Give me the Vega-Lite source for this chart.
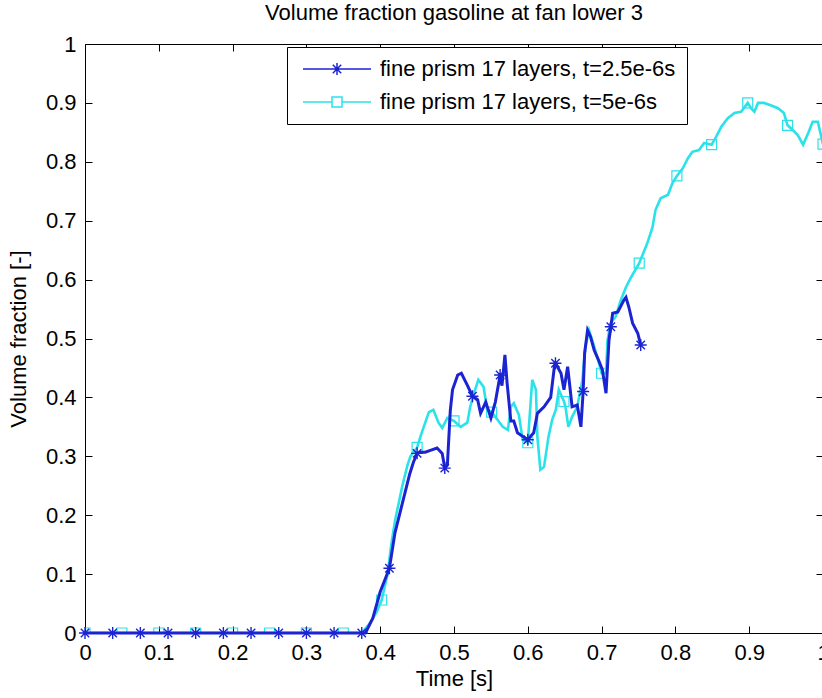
{
  "$schema": "https://vega.github.io/schema/vega-lite/v6.json",
  "width": 738,
  "height": 589,
  "autosize": {"type": "none"},
  "padding": {"left": 85, "top": 44, "right": 0, "bottom": 65},
  "background": "white",
  "title": {"text": "Volume fraction gasoline at fan lower 3", "fontSize": 22, "fontWeight": "normal", "font": "Liberation Sans", "color": "black", "anchor": "middle", "offset": 8},
  "datasets": {
    "blue": [
      {"t": 0, "v": 0}, {"t": 0.38, "v": 0}, {"t": 0.39, "v": 0.025}, {"t": 0.4, "v": 0.07}, {"t": 0.4125, "v": 0.11},
      {"t": 0.42, "v": 0.17}, {"t": 0.43, "v": 0.22}, {"t": 0.44, "v": 0.27}, {"t": 0.445, "v": 0.29}, {"t": 0.45, "v": 0.305},
      {"t": 0.455, "v": 0.307}, {"t": 0.461, "v": 0.307}, {"t": 0.468, "v": 0.31}, {"t": 0.477, "v": 0.314}, {"t": 0.484, "v": 0.305},
      {"t": 0.4875, "v": 0.28}, {"t": 0.491, "v": 0.285}, {"t": 0.495, "v": 0.378}, {"t": 0.498, "v": 0.413}, {"t": 0.505, "v": 0.438},
      {"t": 0.51, "v": 0.441}, {"t": 0.518, "v": 0.421}, {"t": 0.525, "v": 0.402}, {"t": 0.532, "v": 0.396}, {"t": 0.536, "v": 0.373},
      {"t": 0.543, "v": 0.392}, {"t": 0.55, "v": 0.365}, {"t": 0.556, "v": 0.392}, {"t": 0.5625, "v": 0.438}, {"t": 0.565, "v": 0.42},
      {"t": 0.569, "v": 0.472}, {"t": 0.572, "v": 0.424}, {"t": 0.577, "v": 0.36}, {"t": 0.581, "v": 0.36}, {"t": 0.586, "v": 0.34},
      {"t": 0.594, "v": 0.333}, {"t": 0.6, "v": 0.328}, {"t": 0.608, "v": 0.34}, {"t": 0.613, "v": 0.373}, {"t": 0.622, "v": 0.384},
      {"t": 0.631, "v": 0.4}, {"t": 0.636, "v": 0.452}, {"t": 0.6375, "v": 0.458}, {"t": 0.645, "v": 0.441}, {"t": 0.649, "v": 0.413},
      {"t": 0.654, "v": 0.452}, {"t": 0.658, "v": 0.407}, {"t": 0.66, "v": 0.384}, {"t": 0.667, "v": 0.387}, {"t": 0.672, "v": 0.35},
      {"t": 0.675, "v": 0.41}, {"t": 0.677, "v": 0.475}, {"t": 0.681, "v": 0.514}, {"t": 0.685, "v": 0.503}, {"t": 0.69, "v": 0.48},
      {"t": 0.696, "v": 0.463}, {"t": 0.701, "v": 0.447}, {"t": 0.706, "v": 0.407}, {"t": 0.708, "v": 0.452}, {"t": 0.71, "v": 0.497},
      {"t": 0.7125, "v": 0.52}, {"t": 0.715, "v": 0.543}, {"t": 0.722, "v": 0.545}, {"t": 0.73, "v": 0.565}, {"t": 0.733, "v": 0.57},
      {"t": 0.737, "v": 0.553}, {"t": 0.742, "v": 0.526}, {"t": 0.749, "v": 0.509}, {"t": 0.753, "v": 0.489}
    ],
    "blueMarks": [
      {"t": 0, "v": 0}, {"t": 0.0375, "v": 0}, {"t": 0.075, "v": 0}, {"t": 0.1125, "v": 0}, {"t": 0.15, "v": 0},
      {"t": 0.1875, "v": 0}, {"t": 0.225, "v": 0}, {"t": 0.2625, "v": 0}, {"t": 0.3, "v": 0}, {"t": 0.3375, "v": 0},
      {"t": 0.375, "v": 0}, {"t": 0.4125, "v": 0.11}, {"t": 0.45, "v": 0.305}, {"t": 0.4875, "v": 0.28}, {"t": 0.525, "v": 0.402},
      {"t": 0.5625, "v": 0.438}, {"t": 0.6, "v": 0.328}, {"t": 0.6375, "v": 0.458}, {"t": 0.675, "v": 0.41}, {"t": 0.7125, "v": 0.52},
      {"t": 0.753, "v": 0.489}
    ],
    "cyan": [
      {"t": 0, "v": 0}, {"t": 0.375, "v": 0}, {"t": 0.385, "v": 0.015}, {"t": 0.395, "v": 0.035}, {"t": 0.402, "v": 0.056},
      {"t": 0.41, "v": 0.1}, {"t": 0.415, "v": 0.15}, {"t": 0.42, "v": 0.19}, {"t": 0.43, "v": 0.25}, {"t": 0.437, "v": 0.285},
      {"t": 0.441, "v": 0.3}, {"t": 0.45, "v": 0.315}, {"t": 0.455, "v": 0.335}, {"t": 0.459, "v": 0.35}, {"t": 0.466, "v": 0.375},
      {"t": 0.472, "v": 0.379}, {"t": 0.479, "v": 0.357}, {"t": 0.484, "v": 0.348}, {"t": 0.491, "v": 0.365}, {"t": 0.5, "v": 0.36},
      {"t": 0.509, "v": 0.35}, {"t": 0.518, "v": 0.357}, {"t": 0.522, "v": 0.384}, {"t": 0.527, "v": 0.407}, {"t": 0.533, "v": 0.43},
      {"t": 0.54, "v": 0.418}, {"t": 0.545, "v": 0.379}, {"t": 0.551, "v": 0.375}, {"t": 0.559, "v": 0.362}, {"t": 0.566, "v": 0.35},
      {"t": 0.573, "v": 0.345}, {"t": 0.577, "v": 0.384}, {"t": 0.581, "v": 0.39}, {"t": 0.588, "v": 0.37}, {"t": 0.593, "v": 0.328},
      {"t": 0.6, "v": 0.323}, {"t": 0.606, "v": 0.43}, {"t": 0.611, "v": 0.413}, {"t": 0.613, "v": 0.333}, {"t": 0.617, "v": 0.277},
      {"t": 0.622, "v": 0.282}, {"t": 0.628, "v": 0.333}, {"t": 0.633, "v": 0.362}, {"t": 0.638, "v": 0.379}, {"t": 0.642, "v": 0.413},
      {"t": 0.649, "v": 0.393}, {"t": 0.651, "v": 0.384}, {"t": 0.655, "v": 0.35}, {"t": 0.66, "v": 0.367}, {"t": 0.667, "v": 0.384},
      {"t": 0.674, "v": 0.43}, {"t": 0.678, "v": 0.486}, {"t": 0.683, "v": 0.514}, {"t": 0.69, "v": 0.486}, {"t": 0.694, "v": 0.469},
      {"t": 0.7, "v": 0.441}, {"t": 0.706, "v": 0.441}, {"t": 0.708, "v": 0.497}, {"t": 0.712, "v": 0.526}, {"t": 0.719, "v": 0.537},
      {"t": 0.726, "v": 0.565}, {"t": 0.733, "v": 0.587}, {"t": 0.74, "v": 0.604}, {"t": 0.751, "v": 0.628}, {"t": 0.762, "v": 0.662},
      {"t": 0.769, "v": 0.689}, {"t": 0.773, "v": 0.718}, {"t": 0.78, "v": 0.738}, {"t": 0.79, "v": 0.744}, {"t": 0.796, "v": 0.764},
      {"t": 0.802, "v": 0.776}, {"t": 0.81, "v": 0.789}, {"t": 0.817, "v": 0.806}, {"t": 0.823, "v": 0.817}, {"t": 0.832, "v": 0.82},
      {"t": 0.839, "v": 0.832}, {"t": 0.849, "v": 0.829}, {"t": 0.855, "v": 0.842}, {"t": 0.862, "v": 0.859}, {"t": 0.871, "v": 0.874},
      {"t": 0.88, "v": 0.883}, {"t": 0.889, "v": 0.885}, {"t": 0.898, "v": 0.9}, {"t": 0.903, "v": 0.89}, {"t": 0.907, "v": 0.885},
      {"t": 0.912, "v": 0.9}, {"t": 0.92, "v": 0.9}, {"t": 0.929, "v": 0.896}, {"t": 0.939, "v": 0.891}, {"t": 0.947, "v": 0.883},
      {"t": 0.952, "v": 0.862}, {"t": 0.959, "v": 0.854}, {"t": 0.966, "v": 0.845}, {"t": 0.973, "v": 0.829}, {"t": 0.98, "v": 0.849},
      {"t": 0.986, "v": 0.868}, {"t": 0.993, "v": 0.868}, {"t": 1.0, "v": 0.83}
    ],
    "cyanMarks": [
      {"t": 0, "v": 0}, {"t": 0.05, "v": 0}, {"t": 0.1, "v": 0}, {"t": 0.15, "v": 0}, {"t": 0.2, "v": 0},
      {"t": 0.25, "v": 0}, {"t": 0.3, "v": 0}, {"t": 0.35, "v": 0}, {"t": 0.402, "v": 0.056}, {"t": 0.45, "v": 0.315},
      {"t": 0.5, "v": 0.36}, {"t": 0.551, "v": 0.375}, {"t": 0.6, "v": 0.323}, {"t": 0.649, "v": 0.393}, {"t": 0.7, "v": 0.441},
      {"t": 0.751, "v": 0.628}, {"t": 0.802, "v": 0.776}, {"t": 0.849, "v": 0.829}, {"t": 0.898, "v": 0.9}, {"t": 0.952, "v": 0.862},
      {"t": 1.0, "v": 0.83}
    ],
    "series": [
      {"series": "fine prism 17 layers, t=2.5e-6s"},
      {"series": "fine prism 17 layers, t=5e-6s"}
    ]
  },
  "resolve": {"axis": {"x": "independent", "y": "independent"}},
  "layer": [
    {
      "data": {"name": "cyan"},
      "mark": {"type": "line", "color": "#2ae2ea", "strokeWidth": 2.6, "clip": true},
      "encoding": {
        "x": {"field": "t", "type": "quantitative", "scale": {"domain": [0, 1], "nice": false, "zero": false},
              "axis": {"orient": "bottom", "title": "Time [s]", "values": [0, 0.1, 0.2, 0.3, 0.4, 0.5, 0.6, 0.7, 0.8, 0.9, 1], "format": "~g", "titlePadding": 5}},
        "y": {"field": "v", "type": "quantitative", "scale": {"domain": [0, 1], "nice": false},
              "axis": {"orient": "left", "title": "Volume fraction [-]", "values": [0, 0.1, 0.2, 0.3, 0.4, 0.5, 0.6, 0.7, 0.8, 0.9, 1], "format": "~g", "titlePadding": 15}}
      }
    },
    {
      "data": {"name": "cyanMarks"},
      "mark": {"type": "point", "shape": "square", "size": 100, "filled": false, "color": "#2ae2ea", "strokeWidth": 1.2, "opacity": 1, "clip": true},
      "encoding": {
        "x": {"field": "t", "type": "quantitative", "axis": null},
        "y": {"field": "v", "type": "quantitative", "axis": null}
      }
    },
    {
      "data": {"name": "blue"},
      "mark": {"type": "line", "color": "#1c24d2", "strokeWidth": 3},
      "encoding": {
        "x": {"field": "t", "type": "quantitative",
              "axis": {"orient": "top", "title": null, "labels": false, "values": [0, 0.1, 0.2, 0.3, 0.4, 0.5, 0.6, 0.7, 0.8, 0.9, 1]}},
        "y": {"field": "v", "type": "quantitative",
              "axis": {"orient": "right", "title": null, "labels": false, "values": [0, 0.1, 0.2, 0.3, 0.4, 0.5, 0.6, 0.7, 0.8, 0.9, 1]}}
      }
    },
    {
      "data": {"name": "blueMarks"},
      "mark": {"type": "point", "shape": "M-1,0H1M0,-1V1M-0.7,-0.7L0.7,0.7M-0.7,0.7L0.7,-0.7", "size": 144, "filled": false, "color": "#1c24d2", "strokeWidth": 1.4, "opacity": 1},
      "encoding": {
        "x": {"field": "t", "type": "quantitative", "axis": null},
        "y": {"field": "v", "type": "quantitative", "axis": null}
      }
    },
    {
      "data": {"name": "series"},
      "mark": {"type": "point", "filled": false, "opacity": 0},
      "encoding": {
        "color": {"field": "series", "type": "nominal",
                  "scale": {"domain": ["fine prism 17 layers, t=2.5e-6s", "fine prism 17 layers, t=5e-6s"], "range": ["#1c24d2", "#2ae2ea"]},
                  "legend": {"orient": "none", "legendX": 202, "legendY": 3, "title": null, "padding": 11,
                             "strokeColor": "black", "fillColor": "white", "symbolSize": 400, "symbolStrokeWidth": 1.5,
                             "symbolOffset": 28, "labelOffset": 32, "labelFontSize": 22, "labelFont": "Liberation Sans",
                             "labelColor": "black", "labelLimit": 500, "rowPadding": 11, "symbolOpacity": 1}},
        "shape": {"field": "series", "type": "nominal",
                  "scale": {"domain": ["fine prism 17 layers, t=2.5e-6s", "fine prism 17 layers, t=5e-6s"],
                            "range": ["M-3.4,0H3.4M0,-0.6V0.6M-0.42,-0.42L0.42,0.42M-0.42,0.42L0.42,-0.42",
                                      "M-3.4,0H-0.5M0.5,0H3.4M-0.5,-0.5H0.5V0.5H-0.5Z"]},
                  "legend": {"orient": "none", "legendX": 202, "legendY": 3, "title": null, "padding": 11,
                             "strokeColor": "black", "fillColor": "white", "symbolSize": 400, "symbolStrokeWidth": 1.5,
                             "symbolOffset": 28, "labelOffset": 32, "labelFontSize": 22, "labelFont": "Liberation Sans",
                             "labelColor": "black", "labelLimit": 500, "rowPadding": 11, "symbolOpacity": 1}}
      }
    }
  ],
  "config": {
    "font": "Liberation Sans",
    "view": {"stroke": null},
    "axis": {
      "domainColor": "black", "domainWidth": 1, "tickColor": "black", "tickWidth": 1, "tickSize": -7,
      "labelColor": "black", "labelFontSize": 22, "labelFont": "Liberation Sans", "labelPadding": 16,
      "titleColor": "black", "titleFontSize": 22, "titleFont": "Liberation Sans", "titleFontWeight": "normal",
      "grid": false, "labelFlush": false, "labelOverlap": false
    }
  }
}
